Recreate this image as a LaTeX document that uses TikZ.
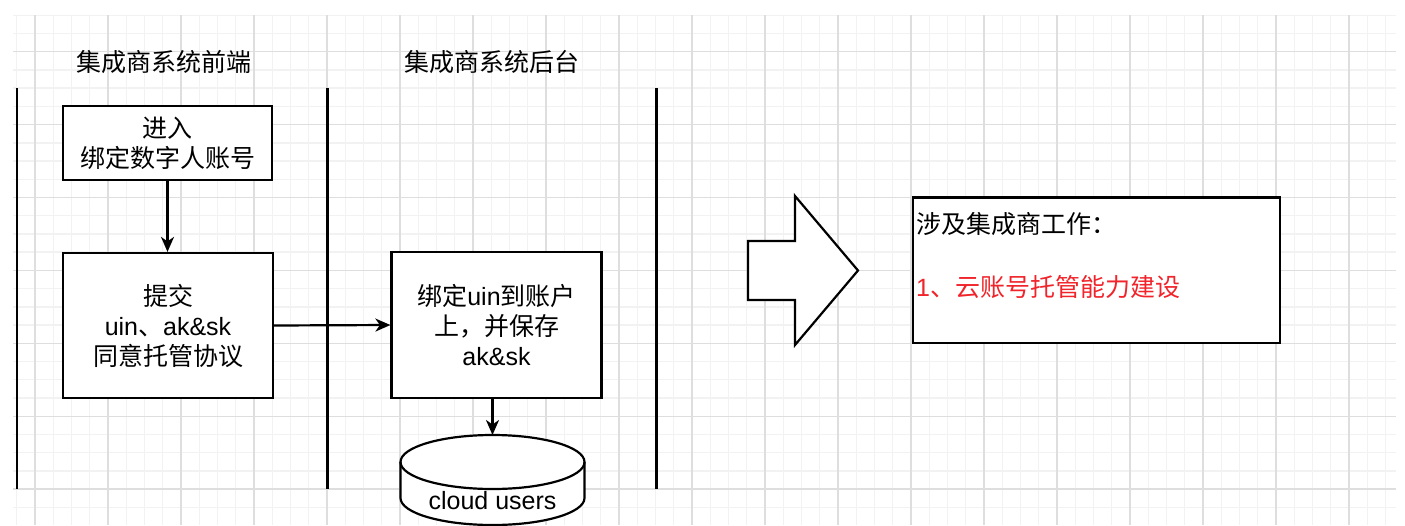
\documentclass[tikz,border=0pt]{standalone}
\usepackage{fontspec}
\setmainfont{Noto Sans CJK SC}
\newfontfamily\lat{Liberation Sans}
\usetikzlibrary{arrows.meta}
\definecolor{gridminor}{HTML}{F2F2F2}
\definecolor{gridmajor}{HTML}{DEDEDE}
\definecolor{redtext}{HTML}{F0242A}
\tikzset{
  txt/.style={font=\fontsize{25}{30}\selectfont, align=center, inner sep=0pt},
  procbox/.style={draw=black, line width=2.2pt, fill=white, txt},
  lane/.style={draw=black, line width=2.2pt},
  conn/.style={draw=black, line width=2.2pt, -{Stealth[length=15pt,width=13pt,inset=4.5pt]}},
  minorline/.style={draw=gridminor, line width=1.4pt},
  majorline/.style={draw=gridmajor, line width=1.4pt},
}
\begin{document}
\begin{tikzpicture}[x=1pt,y=-1pt]
\useasboundingbox (0,0) rectangle (1405,525);
\fill[white] (0,0) rectangle (1405,525);
% grid
\foreach \i in {0,...,75} \draw[minorline] ({16.75+18.25*\i},15) -- ({16.75+18.25*\i},525);
\foreach \j in {0,...,27} \draw[minorline] (13,{15.25+18.225*\j}) -- (1396,{15.25+18.225*\j});
\foreach \k in {0,...,18} \draw[majorline] ({35+73*\k},15) -- ({35+73*\k},525);
\foreach \k in {0,...,6} \draw[majorline] (13,{51.7+72.9*\k}) -- (1396,{51.7+72.9*\k});
% lane titles
\node[txt] (t1) at (164,62) {集成商系统前端};
\node[txt] (t2) at (492,62) {集成商系统后台};
% lane lines
\coordinate (l1a) at (17,88); \coordinate (l1b) at (17,489);
\coordinate (l2a) at (327.5,88); \coordinate (l2b) at (327.5,489);
\coordinate (l3a) at (656.5,88); \coordinate (l3b) at (656.5,489);
\draw[lane] (l1a) -- (l1b);
\draw[lane] (l2a) -- (l2b);
\draw[lane] (l3a) -- (l3b);
% boxes
\node[procbox, minimum width=209pt, minimum height=74pt] (a) at (167.5,143) {进入\\绑定数字人账号};
\node[procbox, minimum width=210pt, minimum height=145pt] (b) at (168,325.5) {提交\\{\lat uin}、{\lat ak\&sk}\\同意托管协议};
\node[procbox, minimum width=210pt, minimum height=146pt] (c) at (496.5,325) {绑定{\lat uin}到账户\\上，并保存\\{\lat ak\&sk}};
% cylinder
\coordinate (cyltop) at (492.5,435);
\path[fill=white, draw=black, line width=2.2pt]
  (400.5,462) -- (400.5,498) arc[start angle=180, end angle=0, x radius=92, y radius=27]
  -- (584.5,462) arc[start angle=0, end angle=-180, x radius=92, y radius=27] -- cycle;
\draw[black, line width=2.2pt] (400.5,462) arc[start angle=180, end angle=0, x radius=92, y radius=27];
\node[txt, font=\lat\fontsize{25}{30}\selectfont] (db) at (492.5,501) {cloud users};
% connectors
\draw[conn] (a.south) -- (b.north -| a.south);
\draw[conn] (b.east) -- (c.west);
\draw[conn] (c.south -| cyltop) -- (cyltop);
% block arrow
\draw[black, line width=2.2pt, fill=white, line join=miter]
  (748,241) -- (795,241) -- (795,196) -- (858,270.5) -- (795,345) -- (795,300) -- (748,300) -- cycle;
% summary box
\node[draw=black, line width=2.2pt, fill=white, minimum width=367pt, minimum height=145.5pt] (s) at (1096.5,270.25) {};
\node[txt, anchor=west] (s1) at (916,224) {涉及集成商工作：};
\node[txt, anchor=west, text=redtext] (s2) at (916,287) {{\lat 1}、云账号托管能力建设};
\end{tikzpicture}
\end{document}
